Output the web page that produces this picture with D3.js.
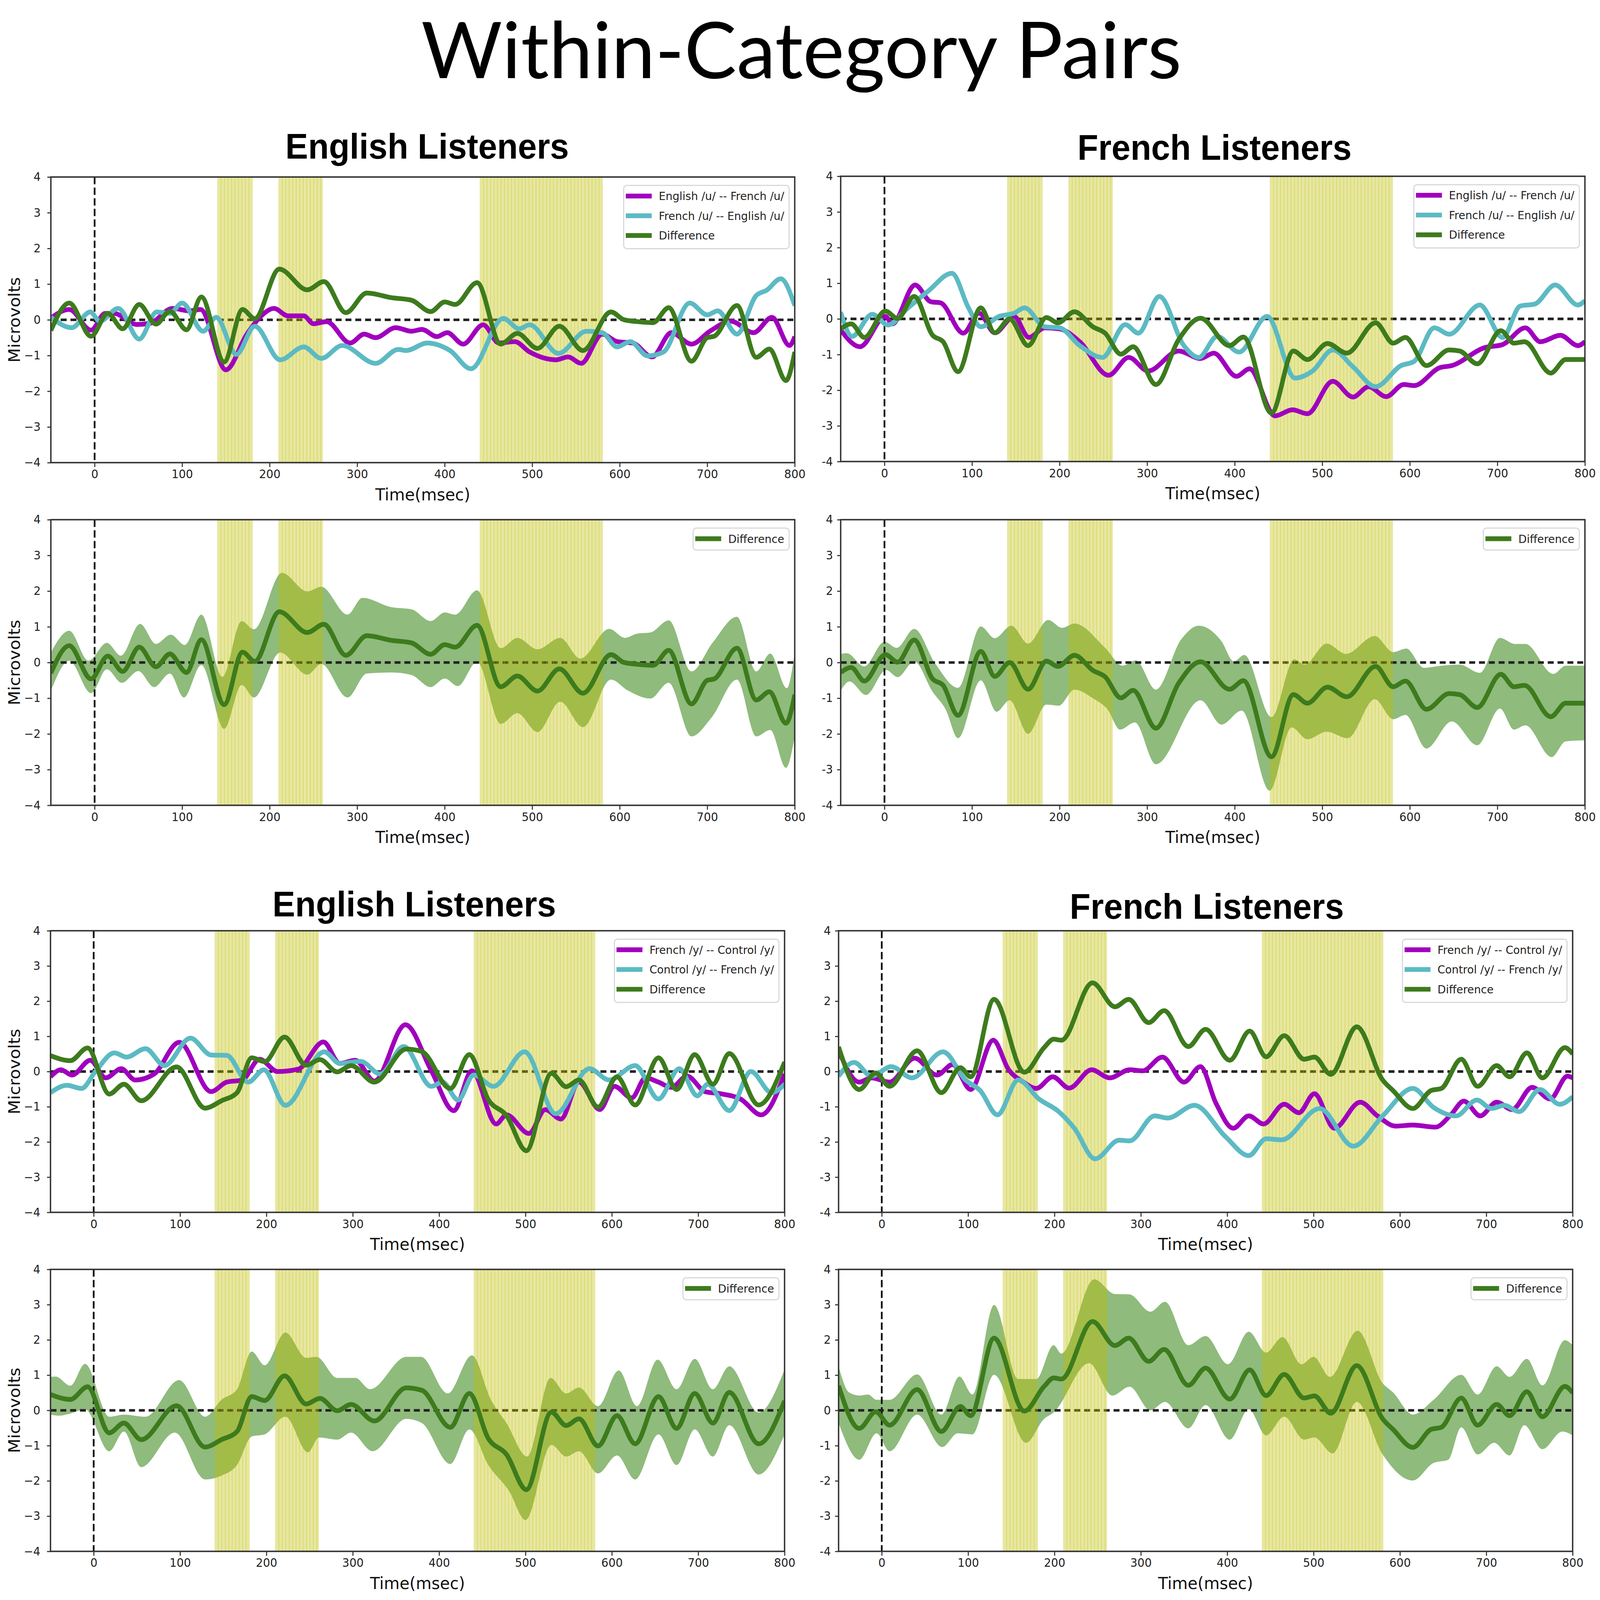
<!DOCTYPE html>
<html>
<head>
<meta charset="utf-8">
<script src="https://cdn.jsdelivr.net/npm/d3@7"></script>
<style>
  html, body { margin: 0; padding: 0; width: 100%; height: 100%; overflow: hidden; background: #fff; }
  #chart { width: 100vw; height: 100vh; }
  #chart svg { display: block; }
</style>
</head>
<body>
<div id="chart"></div>
<script>
// ---- values: [time ms, microvolts] ----
// English listeners, /u/ pairs
const uEngA = [[-50,0.05],[-29,0.29],[-4,-0.29],[12,0.18],[22,0.18],[48,-0.13],[63,-0.1],[89,0.32],[109,0.25],[121,0.29],[150,-1.4],[174,-0.4],[190,0.1],[205,0.32],[221,0.11],[239,0.11],[250,-0.11],[265,-0.05],[292,-0.65],[308,-0.4],[321,-0.5],[344,-0.22],[362,-0.32],[374,-0.27],[391,-0.47],[403,-0.36],[421,-0.68],[444,-0.14],[462,-0.65],[480,-0.61],[497,-0.9],[527,-1.12],[541,-1.04],[556,-1.22],[580,-0.4],[597,-0.61],[615,-0.65],[637,-1.04],[659,-0.36],[682,-0.68],[703,-0.32],[727,-0.04],[753,-0.36],[774,0.07],[794,-0.72],[800,-0.47]];
const uEngB = [[-50,0.07],[-26,-0.22],[-5,0.22],[6,-0.04],[27,0.32],[51,-0.54],[71,0.22],[86,0.18],[100,0.47],[124,-0.32],[139,0.07],[162,-0.97],[183,-0.18],[212,-1.12],[239,-0.76],[259,-1.08],[283,-0.72],[321,-1.22],[347,-0.83],[356,-0.86],[380,-0.65],[406,-0.86],[430,-1.37],[467,0.04],[485,-0.25],[497,-0.14],[530,-0.94],[562,-0.32],[580,-0.36],[597,-0.76],[612,-0.61],[632,-1.01],[650,-0.9],[680,0.47],[700,0.14],[712,0.25],[734,-0.4],[756,0.68],[768,0.83],[784,1.15],[800,0.4]];
const uEngDiff = [[-50,-0.3],[-29,0.47],[-4,-0.46],[15,0.18],[32,-0.25],[51,0.43],[70,-0.12],[86,0.24],[105,-0.28],[122,0.64],[148,-1.18],[169,0.29],[183,0.03],[211,1.42],[243,0.84],[262,1.07],[287,0.2],[311,0.75],[339,0.62],[362,0.55],[384,0.23],[400,0.5],[412,0.43],[437,1.04],[464,-0.68],[483,-0.38],[506,-0.8],[531,-0.18],[558,-0.86],[590,0.22],[605,0.0],[620,-0.05],[638,-0.08],[656,0.34],[682,-1.16],[700,-0.5],[708,-0.46],[734,0.4],[756,-1.05],[771,-0.82],[790,-1.7],[800,-0.9]];
const uEngHi = [[-50,0.28],[-29,0.89],[-7,0.05],[14,0.55],[30,0.19],[52,1.08],[70,0.52],[87,0.78],[103,0.49],[122,1.34],[146,-0.4],[168,1.16],[182,0.93],[214,2.51],[243,1.99],[259,2.12],[289,1.34],[306,1.81],[339,1.55],[362,1.49],[384,1.16],[400,1.4],[412,1.34],[437,2.02],[464,0.4],[483,0.69],[506,0.37],[532,0.69],[555,0.11],[588,0.94],[606,0.69],[620,0.81],[635,0.84],[656,1.18],[682,-0.25],[706,0.55],[734,1.28],[756,-0.25],[772,0.25],[791,-0.72],[800,0.28]];
const uEngLo = [[-50,-0.8],[-29,0.05],[-4,-0.86],[14,-0.19],[31,-0.57],[50,-0.24],[68,-0.69],[86,-0.31],[102,-0.98],[122,-0.07],[148,-1.86],[168,-0.63],[182,-0.98],[212,0.28],[243,-0.34],[259,-0.04],[289,-0.98],[311,-0.31],[339,-0.28],[362,-0.35],[384,-0.69],[400,-0.45],[415,-0.66],[437,0.02],[464,-1.72],[483,-1.42],[506,-1.95],[532,-1.1],[558,-1.81],[590,-0.48],[609,-0.78],[635,-1.01],[656,-0.57],[682,-2.07],[705,-1.54],[734,-0.48],[756,-2.07],[772,-1.89],[790,-2.95],[800,-2.07]];

// French listeners, /u/ pairs
const uFreA = [[-50,-0.31],[-28,-0.78],[1,0.07],[9,-0.14],[35,0.95],[53,0.48],[64,0.45],[90,-0.4],[108,0.16],[126,-0.39],[148,0.07],[165,-0.52],[183,-0.25],[200,-0.28],[223,-0.64],[256,-1.58],[279,-1.08],[301,-1.46],[336,-0.9],[361,-1.11],[376,-0.96],[402,-1.61],[417,-1.4],[446,-2.72],[466,-2.55],[483,-2.66],[512,-1.75],[535,-2.19],[553,-1.9],[573,-2.18],[593,-1.84],[605,-1.87],[634,-1.37],[648,-1.31],[685,-0.81],[706,-0.72],[732,-0.25],[749,-0.64],[772,-0.46],[792,-0.75],[800,-0.64]];
const uFreB = [[-50,0.19],[-37,-0.49],[-14,0.13],[4,-0.17],[27,0.31],[50,0.78],[77,1.28],[96,0.31],[110,-0.22],[131,0.07],[148,0.16],[160,0.31],[183,-0.22],[200,-0.25],[223,-0.75],[249,-1.08],[275,-0.16],[290,-0.4],[314,0.63],[342,-0.75],[359,-1.08],[380,-0.49],[405,-0.93],[437,0.07],[469,-1.66],[489,-1.46],[512,-0.87],[535,-1.34],[561,-1.9],[590,-1.31],[605,-1.19],[628,-0.25],[645,-0.43],[680,0.39],[706,-0.52],[726,0.36],[743,0.42],[766,0.95],[792,0.39],[800,0.51]];
const uFreDiff = [[-50,-0.28],[-38,-0.14],[-23,-0.52],[1,0.22],[15,0.01],[34,0.63],[55,-0.46],[67,-0.64],[84,-1.48],[110,0.31],[126,-0.39],[143,0.0],[164,-0.75],[185,0.04],[198,-0.11],[217,0.2],[238,-0.22],[252,-0.4],[270,-0.99],[284,-0.78],[310,-1.84],[336,-0.58],[361,0.02],[394,-0.75],[410,-0.51],[442,-2.64],[467,-0.9],[483,-1.14],[506,-0.69],[528,-0.96],[561,-0.11],[581,-0.68],[595,-0.52],[619,-1.31],[645,-0.87],[657,-0.9],[677,-1.26],[704,-0.33],[719,-0.68],[731,-0.64],[761,-1.52],[778,-1.14],[800,-1.14]];
const uFreHi = [[-50,0.24],[-43,0.26],[-23,-0.11],[0,0.58],[14,0.41],[34,0.94],[58,-0.03],[84,-0.71],[110,1.01],[126,0.68],[145,1.03],[164,0.53],[187,1.19],[203,0.97],[217,1.09],[252,0.41],[272,-0.09],[287,0.06],[310,-0.76],[339,0.65],[359,1.03],[385,0.59],[399,0.03],[411,0.21],[442,-1.53],[468,0.09],[480,-0.06],[505,0.53],[527,0.24],[560,0.74],[581,0.29],[596,0.39],[616,-0.15],[636,-0.09],[657,-0.06],[680,-0.29],[703,0.69],[720,0.52],[732,0.52],[764,-0.32],[778,-0.09],[800,-0.09]];
const uFreLo = [[-50,-0.79],[-40,-0.53],[-21,-0.91],[2,-0.21],[15,-0.41],[34,0.03],[55,-0.82],[70,-1.32],[84,-2.12],[110,-0.5],[128,-1.38],[143,-1.06],[164,-2.0],[185,-1.18],[199,-1.21],[217,-0.76],[238,-1.0],[255,-1.32],[269,-1.88],[286,-1.68],[310,-2.85],[361,-1.06],[385,-1.74],[408,-1.35],[440,-3.59],[465,-1.82],[483,-2.15],[505,-1.94],[529,-2.12],[560,-1.03],[581,-1.59],[595,-1.47],[619,-2.41],[648,-1.65],[677,-2.32],[703,-1.29],[719,-1.88],[732,-1.76],[762,-2.65],[778,-2.21],[800,-2.18]];

// English listeners, /y/ pairs
const yEngA = [[-50,-0.15],[-38,0.05],[-25,-0.1],[-4,0.32],[14,-0.18],[32,0.08],[48,-0.24],[70,-0.07],[99,0.83],[136,-0.57],[154,-0.3],[172,-0.24],[192,0.35],[213,0.0],[237,0.07],[266,0.84],[285,0.23],[303,0.32],[325,-0.27],[361,1.33],[391,0.02],[417,-1.11],[438,0.02],[466,-1.49],[478,-1.23],[504,-1.76],[523,-1.08],[541,-1.35],[562,-0.3],[586,-1.08],[603,-0.42],[623,-0.75],[639,-0.18],[654,-0.3],[669,-0.45],[687,-0.13],[708,-0.57],[726,-0.63],[749,-0.78],[773,-1.23],[800,-0.07]];
const yEngB = [[-50,-0.6],[-31,-0.39],[-14,-0.48],[2,0.0],[24,0.53],[38,0.41],[60,0.65],[82,0.17],[112,0.95],[136,0.47],[154,0.46],[179,-0.3],[197,0.05],[222,-0.96],[267,0.56],[285,0.23],[309,0.29],[332,-0.07],[359,0.71],[391,-0.42],[404,-0.3],[422,-0.81],[440,-0.1],[463,-0.42],[499,0.56],[535,-1.2],[574,0.08],[597,-0.24],[627,0.17],[654,-0.78],[678,0.08],[699,-0.69],[711,-0.36],[736,-1.11],[761,0.0],[785,-0.6],[800,-0.36]];
const yEngDiff = [[-50,0.45],[-27,0.31],[-7,0.67],[18,-0.64],[35,-0.36],[55,-0.83],[96,0.13],[129,-1.04],[148,-0.83],[166,-0.6],[183,0.39],[198,0.28],[221,0.98],[246,0.18],[262,0.34],[282,-0.01],[298,0.17],[325,-0.3],[362,0.64],[380,0.57],[413,-0.48],[435,0.48],[457,-0.8],[478,-1.25],[501,-2.25],[530,-0.05],[547,-0.43],[562,-0.24],[584,-1.01],[606,-0.15],[627,-0.95],[654,0.39],[675,-0.51],[696,0.48],[717,-0.36],[736,0.51],[770,-0.95],[800,0.27]];
const yEngHi = [[-50,0.95],[-44,0.96],[-27,0.7],[-10,1.32],[18,-0.18],[35,-0.12],[60,-0.18],[99,0.86],[129,-0.18],[148,0.3],[166,0.6],[183,1.67],[198,1.28],[222,2.21],[246,1.49],[258,1.52],[282,0.92],[303,0.92],[320,0.6],[362,1.52],[379,1.52],[410,0.48],[438,1.56],[460,0.3],[478,-0.36],[502,-1.31],[529,0.92],[547,0.48],[562,0.65],[584,0.12],[608,1.13],[629,0.12],[653,1.44],[675,0.6],[696,1.46],[717,0.6],[736,1.25],[770,-0.06],[800,1.16]];
const yEngLo = [[-50,-0.12],[-40,-0.15],[-27,-0.09],[-10,0.03],[18,-1.16],[35,-0.6],[55,-1.61],[94,-0.63],[129,-1.96],[148,-1.85],[166,-1.55],[183,-0.74],[198,-0.68],[222,-0.18],[248,-1.19],[261,-0.77],[282,-0.83],[298,-0.63],[323,-1.16],[362,-0.24],[380,-0.36],[413,-1.52],[435,-0.54],[457,-1.55],[481,-2.29],[500,-3.11],[530,-0.98],[547,-1.31],[562,-1.16],[584,-1.79],[606,-1.28],[627,-1.96],[654,-0.68],[675,-1.55],[696,-0.54],[717,-1.31],[736,-0.42],[770,-1.82],[800,-0.68]];

// French listeners, /y/ pairs
const yFreA = [[-50,0.59],[-26,-0.3],[-12,-0.18],[9,-0.3],[38,0.38],[64,-0.1],[82,0.2],[103,-0.51],[129,0.89],[147,0.05],[164,-0.3],[179,-0.48],[198,-0.15],[217,-0.47],[243,0.05],[264,-0.18],[287,0.05],[302,0.02],[325,0.41],[350,-0.3],[369,0.14],[387,-0.9],[407,-1.61],[425,-1.26],[442,-1.49],[466,-0.93],[483,-1.17],[501,-0.63],[524,-1.61],[554,-0.87],[574,-1.26],[595,-1.55],[615,-1.52],[641,-1.58],[659,-1.23],[674,-0.84],[693,-1.26],[712,-0.87],[730,-1.08],[753,-0.45],[774,-0.78],[794,-0.13],[800,-0.18]];
const yFreB = [[-50,-0.13],[-32,0.26],[-12,-0.13],[11,0.14],[35,-0.18],[71,0.56],[97,-0.24],[114,-0.54],[134,-1.23],[158,-0.24],[182,-0.78],[205,-1.14],[223,-1.61],[247,-2.48],[275,-1.95],[287,-1.97],[316,-1.26],[331,-1.32],[362,-0.96],[398,-1.85],[425,-2.39],[445,-1.91],[463,-1.94],[507,-1.05],[546,-2.12],[580,-1.26],[615,-0.48],[639,-1.02],[665,-1.26],[689,-0.81],[706,-1.05],[721,-0.96],[738,-1.14],[762,-0.51],[785,-0.93],[800,-0.72]];
const yFreDiff = [[-50,0.7],[-26,-0.51],[-7,-0.04],[9,-0.42],[41,0.59],[69,-0.6],[91,0.11],[103,-0.15],[130,2.05],[165,-0.02],[188,0.68],[199,0.92],[208,0.89],[244,2.52],[270,1.84],[286,2.05],[309,1.39],[327,1.73],[355,0.71],[375,1.2],[403,0.32],[426,1.15],[445,0.42],[466,1.02],[489,0.35],[501,0.41],[520,-0.08],[550,1.27],[580,-0.24],[592,-0.54],[615,-1.05],[636,-0.54],[648,-0.48],[671,0.35],[690,-0.42],[712,0.17],[727,-0.15],[747,0.53],[765,-0.18],[791,0.68],[800,0.5]];
const yFreHi = [[-50,1.25],[-38,0.51],[-26,0.42],[-16,0.45],[-6,0.3],[9,0.3],[41,1.02],[69,-0.12],[90,0.96],[105,0.45],[130,2.99],[158,0.89],[179,0.89],[199,1.85],[208,1.61],[246,3.72],[270,3.3],[287,3.29],[311,2.8],[328,3.08],[355,1.85],[375,2.11],[401,1.31],[425,2.23],[445,1.64],[464,2.08],[486,1.31],[500,1.52],[519,0.95],[551,2.26],[580,0.77],[592,0.51],[615,-0.12],[639,0.3],[671,1.01],[690,0.45],[712,1.25],[727,0.95],[747,1.46],[765,0.71],[791,1.99],[800,1.85]];
const yFreLo = [[-50,-0.36],[-26,-1.4],[-6,-0.65],[9,-1.16],[41,-0.12],[70,-1.04],[88,-0.65],[105,-0.68],[130,1.01],[167,-0.92],[188,-0.24],[199,-0.06],[240,1.34],[267,0.42],[287,0.67],[311,0.0],[328,0.24],[355,-0.51],[375,0.15],[403,-0.83],[425,0.03],[445,-0.71],[466,-0.18],[489,-0.83],[501,-0.77],[522,-1.22],[550,0.24],[580,-1.25],[615,-1.99],[639,-1.49],[656,-1.4],[671,-0.48],[690,-1.25],[709,-0.92],[727,-1.28],[744,-0.42],[765,-1.1],[788,-0.6],[800,-0.71]];

const xTicks = [0, 100, 200, 300, 400, 500, 600, 700, 800];
const yTicks = [-4, -3, -2, -1, 0, 1, 2, 3, 4];
const sigWindows = [[140, 180], [210, 260], [440, 580]];
const uLegend = ["English /u/ -- French /u/", "French /u/ -- English /u/", "Difference"];
const yLegend = ["French /y/ -- Control /y/", "Control /y/ -- French /y/", "Difference"];
const diffLegend = ["Difference"];

// ---- layout ----
const W = 4562, H = 4375;
const colA = "#a000be", colB = "#5cbac3", colDiff = "#3d7b1d", colBand = "#8fbb7c", colSig = "#bfbf00";
const tickFont = "DejaVu Sans, Verdana, sans-serif";

// the drawing is laid out in picture pixels and scaled to fill the window
const svg = d3.select("#chart")
    .append("svg")
    .attr("viewBox", `0 0 ${W} ${H}`)
    .attr("preserveAspectRatio", "none")
    .attr("width", "100%")
    .attr("height", "100%");

svg.append("rect").attr("width", W).attr("height", H).attr("fill", "#fff");

svg.append("text")
    .attr("x", 2285).attr("y", 214)
    .attr("text-anchor", "middle")
    .attr("font-family", "Lato, 'Open Sans', sans-serif")
    .attr("font-size", 214)
    .attr("textLength", 2168)
    .attr("lengthAdjust", "spacingAndGlyphs")
    .text("Within-Category Pairs");

const titles = [
    { text: "English Listeners", x: 1218, y: 434 },
    { text: "French Listeners", x: 3463, y: 437 },
    { text: "English Listeners", x: 1181, y: 2506 },
    { text: "French Listeners", x: 3441, y: 2512 }
];
titles.forEach(t => {
    svg.append("text")
        .attr("x", t.x).attr("y", t.y)
        .attr("text-anchor", "middle")
        .attr("font-family", "'Liberation Sans', Arial, sans-serif")
        .attr("font-weight", "bold")
        .attr("font-size", 97)
        .text(t.text);
});

const panels = [
    { box: [145, 2266, 484, 1265], lines: [uEngA, uEngB, uEngDiff], legend: uLegend, left: true },
    { box: [2397, 4519, 482, 1262], lines: [uFreA, uFreB, uFreDiff], legend: uLegend, left: false },
    { box: [145, 2266, 1421, 2202], band: [uEngHi, uEngLo], lines: [null, null, uEngDiff], legend: diffLegend, left: true },
    { box: [2397, 4519, 1421, 2202], band: [uFreHi, uFreLo], lines: [null, null, uFreDiff], legend: diffLegend, left: false },
    { box: [144, 2237, 2545, 3315], lines: [yEngA, yEngB, yEngDiff], legend: yLegend, left: true },
    { box: [2391, 4484, 2545, 3315], lines: [yFreA, yFreB, yFreDiff], legend: yLegend, left: false },
    { box: [144, 2237, 3471, 4242], band: [yEngHi, yEngLo], lines: [null, null, yEngDiff], legend: diffLegend, left: true },
    { box: [2391, 4484, 3471, 4242], band: [yFreHi, yFreLo], lines: [null, null, yFreDiff], legend: diffLegend, left: false }
];

panels.forEach((p, i) => drawPanel(p, i));

function drawPanel(p, i) {
    const [x0, x1, y0, y1] = p.box;
    const x = d3.scaleLinear().domain([-50, 800]).range([x0, x1]);
    const y = d3.scaleLinear().domain([-4, 4]).range([y1, y0]);
    const g = svg.append("g");

    g.append("clipPath").attr("id", "clip" + i)
        .append("rect").attr("x", x0).attr("y", y0).attr("width", x1 - x0).attr("height", y1 - y0);
    const plot = g.append("g").attr("clip-path", `url(#clip${i})`);

    const line = d3.line()
        .x(d => x(d[0]))
        .y(d => y(d[1]))
        .curve(d3.curveMonotoneX);

    if (p.band) {
        const hi = line(p.band[0]);
        const lo = line(p.band[1].slice().reverse());
        plot.append("path")
            .attr("d", hi + "L" + lo.slice(1) + "Z")
            .attr("fill", colBand);
    }

    // stimulus onset and zero reference (under the shaded windows)
    plot.append("line")
        .attr("x1", x(0)).attr("x2", x(0)).attr("y1", y0).attr("y2", y1)
        .attr("stroke", "#111").attr("stroke-width", 5)
        .attr("stroke-dasharray", "20,9");
    plot.append("line")
        .attr("x1", x0).attr("x2", x1).attr("y1", y(0)).attr("y2", y(0))
        .attr("stroke", "#222").attr("stroke-width", 7)
        .attr("stroke-dasharray", "17,11");

    // significant windows, drawn as many thin overlapping spans
    const step = 4;
    sigWindows.forEach(([a, b]) => {
        plot.selectAll(null)
            .data(d3.range(a, b, step))
            .enter()
            .append("rect")
            .attr("x", t => x(t))
            .attr("y", y0)
            .attr("width", t => x(Math.min(t + step, b)) - x(t) + 2)
            .attr("height", y1 - y0)
            .attr("fill", colSig)
            .attr("opacity", 0.37);
    });

    // waveforms on top
    const cols = [colA, colB, colDiff];
    p.lines.forEach((s, k) => {
        if (!s) return;
        plot.append("path")
            .attr("d", line(s))
            .attr("fill", "none")
            .attr("stroke", cols[k])
            .attr("stroke-width", 13)
            .attr("stroke-linejoin", "round");
    });

    // axes
    const xAxis = g.append("g")
        .attr("transform", `translate(0,${y1})`)
        .call(d3.axisBottom(x).tickValues(xTicks).tickSize(12).tickPadding(8));
    const yAxis = g.append("g")
        .attr("transform", `translate(${x0},0)`)
        .call(d3.axisLeft(y).tickValues(yTicks).tickSize(10).tickPadding(p.left ? 19 : 12)
            .tickFormat(p.left ? d3.format("d") : d => String(d)));
    [xAxis, yAxis].forEach(ax => {
        ax.select(".domain").remove();
        ax.selectAll(".tick line").attr("stroke", "#333").attr("stroke-width", 3);
        ax.selectAll(".tick text")
            .attr("fill", "#222")
            .style("font-family", tickFont)
            .style("font-size", "32px");
    });

    g.append("rect")
        .attr("x", x0).attr("y", y0).attr("width", x1 - x0).attr("height", y1 - y0)
        .attr("fill", "none").attr("stroke", "#333").attr("stroke-width", 4);

    g.append("text")
        .attr("x", (x0 + x1) / 2).attr("y", y1 + 103)
        .attr("text-anchor", "middle")
        .attr("font-family", tickFont)
        .attr("font-size", 46)
        .attr("fill", "#111")
        .text("Time(msec)");

    if (p.left) {
        g.append("text")
            .attr("transform", `translate(57,${(y0 + y1) / 2}) rotate(-90)`)
            .attr("text-anchor", "middle")
            .attr("font-family", tickFont)
            .attr("font-size", 46)
            .attr("fill", "#111")
            .text("Microvolts");
    }

    // legend
    const legCols = p.legend.length === 3 ? [colA, colB, colDiff] : [colDiff];
    const leg = g.append("g");
    const box = leg.append("rect")
        .attr("rx", 9).attr("ry", 9)
        .attr("fill", "#fff").attr("fill-opacity", 0.85)
        .attr("stroke", "#d6d6d6").attr("stroke-width", 3);
    let maxW = 0;
    p.legend.forEach((label, k) => {
        const ry = 29 + k * 54;
        leg.append("line")
            .attr("x1", 6).attr("x2", 80).attr("y1", ry).attr("y2", ry)
            .attr("stroke", legCols[k]).attr("stroke-width", 13);
        const t = leg.append("text")
            .attr("x", 100).attr("y", ry).attr("dy", "0.36em")
            .attr("font-family", tickFont)
            .attr("font-size", 31)
            .attr("fill", "#222")
            .text(label);
        maxW = Math.max(maxW, t.node().getComputedTextLength());
    });
    const legW = 100 + maxW + 14;
    const legH = p.legend.length === 3 ? 173 : 60;
    box.attr("x", 0).attr("y", 0).attr("width", legW).attr("height", legH);
    leg.attr("transform", `translate(${x1 - 16 - legW},${y0 + 23})`);
}
</script>
</body>
</html>
